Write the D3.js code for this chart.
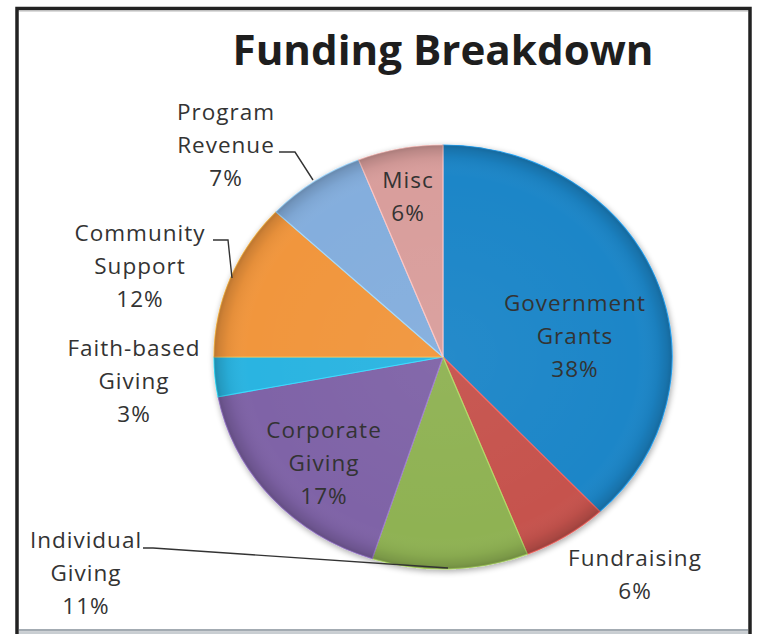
<!DOCTYPE html>
<html>
<head>
<meta charset="utf-8">
<script src="https://cdn.jsdelivr.net/npm/d3@7"></script>
<style>
  html, body { margin: 0; padding: 0; background: #ffffff; }
  svg { display: block; }
</style>
</head>
<body>
<svg id="chart" width="757" height="634"></svg>
<script>
// ---- data ----
const categories = ["Government Grants", "Fundraising", "Individual Giving", "Corporate Giving",
                    "Faith-based Giving", "Community Support", "Program Revenue", "Misc"];
const values = [38, 6, 11, 17, 3, 12, 7, 6];
const labelLines = [["Government", "Grants"], ["Fundraising"], ["Individual", "Giving"],
                    ["Corporate", "Giving"], ["Faith-based", "Giving"], ["Community", "Support"],
                    ["Program", "Revenue"], ["Misc"]];
const title = "Funding Breakdown";

// ---- layout / style (not data) ----
const colors = ["#1f86c8", "#c6524e", "#8fb253", "#7f64a7", "#2ab4e1", "#f1963d", "#84aedd", "#d99e9c"];
const labelAnchor = [[575, 303], [635, 558], [86, 540], [324, 430], [134, 348], [140, 233], [226, 112], [408, 180]];
const leaders = [
  null, null,
  [[143, 548], [153, 548], [448, 568]],
  null, null,
  [[213, 240], [228, 240], [232, 278]],
  [[279, 152], [295, 152], [313, 180]],
  null
];
const W = 757, H = 634;
const cx = 443, cy = 357, R = 212, sx = 229 / 212;
const lineGap = 33;

const svg = d3.select("#chart");
const defs = svg.append("defs");

// background + frame
svg.append("rect").attr("x", 0).attr("y", 0).attr("width", W).attr("height", H).attr("fill", "#fff");
svg.append("rect").attr("x", 17).attr("y", 8.5).attr("width", 733).attr("height", 640)
  .attr("fill", "none").attr("stroke", "#222").attr("stroke-width", 3.5);
svg.append("line").attr("x1", 19).attr("x2", 748).attr("y1", 11).attr("y2", 11)
  .attr("stroke", "#b8b8b8").attr("stroke-width", 1.2);
svg.append("rect").attr("x", 19).attr("y", 629).attr("width", 729).attr("height", 2.5)
  .attr("fill", "#a3abb2");
svg.append("rect").attr("x", 19).attr("y", 631.5).attr("width", 729).attr("height", 2.5)
  .attr("fill", "#c9ced2");

// title
const t = svg.append("text")
  .attr("x", 443).attr("y", 65)
  .attr("text-anchor", "middle")
  .attr("font-family", "'Open Sans', 'DejaVu Sans', sans-serif")
  .attr("font-weight", 700)
  .attr("font-size", 41)
  .attr("fill", "#1e1e1e")
  .text(title);
const tl = t.node().getComputedTextLength();
if (Math.abs(tl - 421) > 3) t.attr("textLength", 421).attr("lengthAdjust", "spacingAndGlyphs");

// shadow filter
const f = defs.append("filter").attr("id", "shadow").attr("x", "-20%").attr("y", "-20%").attr("width", "140%").attr("height", "140%");
f.append("feGaussianBlur").attr("in", "SourceAlpha").attr("stdDeviation", 3).attr("result", "b");
f.append("feOffset").attr("in", "b").attr("dx", 1).attr("dy", 2).attr("result", "o");
f.append("feComponentTransfer").attr("in", "o").attr("result", "s")
  .append("feFuncA").attr("type", "linear").attr("slope", 0.35);
const m = f.append("feMerge");
m.append("feMergeNode").attr("in", "s");
m.append("feMergeNode").attr("in", "SourceGraphic");

// bevel radial gradient overlay
const rg = defs.append("radialGradient").attr("id", "bevel")
  .attr("gradientUnits", "userSpaceOnUse").attr("cx", 0).attr("cy", 0).attr("r", R);
rg.append("stop").attr("offset", "0%").attr("stop-color", "#fff").attr("stop-opacity", 0.04);
rg.append("stop").attr("offset", "85%").attr("stop-color", "#fff").attr("stop-opacity", 0.0);
rg.append("stop").attr("offset", "94%").attr("stop-color", "#000").attr("stop-opacity", 0.05);
rg.append("stop").attr("offset", "98%").attr("stop-color", "#000").attr("stop-opacity", 0.14);
rg.append("stop").attr("offset", "100%").attr("stop-color", "#000").attr("stop-opacity", 0.22);

const pie = d3.pie().sort(null).value(d => d)(values);
const arc = d3.arc().innerRadius(0).outerRadius(R);

const g = svg.append("g").attr("transform", `translate(${cx},${cy}) scale(${sx},1)`);
const pg = g.append("g").attr("filter", "url(#shadow)");
pg.selectAll("path.slice").data(pie).join("path")
  .attr("class", "slice")
  .attr("d", arc)
  .attr("fill", (d, i) => colors[i])
  .attr("stroke", (d, i) => d3.color(colors[i]).brighter(0.6))
  .attr("stroke-width", 1.2)
  .attr("vector-effect", "non-scaling-stroke");
g.append("circle").attr("r", R).attr("fill", "url(#bevel)").attr("pointer-events", "none");

// leader lines
const lineGen = d3.line();
svg.selectAll("path.leader").data(leaders.filter(d => d)).join("path")
  .attr("class", "leader")
  .attr("d", lineGen)
  .attr("fill", "none")
  .attr("stroke", "#333")
  .attr("stroke-width", 1.4);

// labels
const fmt = v => Math.round(v / d3.sum(values) * 100) + "%";
categories.forEach((c, i) => {
  const lines = labelLines[i].concat([fmt(values[i])]);
  const [lx, ly] = labelAnchor[i];
  const txt = svg.append("text")
    .attr("text-anchor", "middle")
    .attr("font-family", "'Open Sans', 'DejaVu Sans', sans-serif")
    .attr("font-size", 22.5)
    .attr("letter-spacing", "1px")
    .attr("fill", "#333333");
  lines.forEach((s, k) => {
    txt.append("tspan").attr("x", lx).attr("y", ly + 8 + k * lineGap).text(s);
  });
});
</script>
</body>
</html>
